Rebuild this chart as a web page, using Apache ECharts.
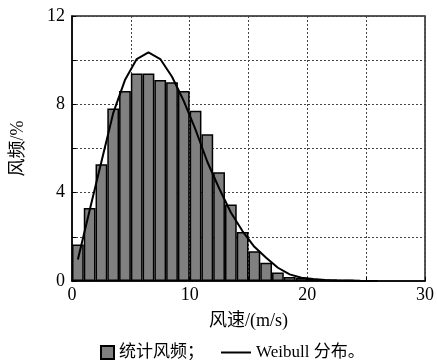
<!DOCTYPE html>
<html>
<head>
<meta charset="UTF-8">
<script type="text/javascript" src="https://cdn.jsdelivr.net/npm/echarts@6/dist/echarts.min.js"></script>
<title></title>
<style>
  html, body { margin: 0; padding: 0; background: #fff; }
</style>
</head>
<body>
<div id="main" style="width: 437px; height: 360px;"></div>
<script type="text/javascript">
// 风速区间中点 (m/s)
var speedMid = [0.5, 1.5, 2.5, 3.5, 4.5, 5.5, 6.5, 7.5, 8.5, 9.5, 10.5, 11.5, 12.5,
	13.5, 14.5, 15.5, 16.5, 17.5, 18.5, 19.5, 20.5, 21.5, 22.5, 23.5, 24.5, 25.5];
// 统计风频 (%)
var barFreq = [1.65, 3.31, 5.29, 7.81, 8.6, 9.4, 9.4, 9.1, 9.0, 8.6, 7.71, 6.64, 4.93,
	3.46, 2.22, 1.35, 0.83, 0.39, 0.18, 0.15, 0.09, 0.07, 0.05, 0.04, 0.03, 0.02];
// Weibull 分布 (%)
var weibull = [0.97, 3.2, 5.4, 7.6, 9.1, 10.05, 10.35, 10.05, 9.25, 8.15, 6.85, 5.4, 4.2,
	3.1, 2.25, 1.55, 1.05, 0.6, 0.3, 0.15, 0.09, 0.05, 0.03, 0.02, 0.01, 0.005];
var xTickLabels = [0, 10, 20, 30];
var yTickLabels = [0, 4, 8, 12];

var font = "'Liberation Serif', 'Noto Sans CJK SC', serif";

var barData = [];
var lineData = [];
for (var i = 0; i < speedMid.length; i++) {
	barData.push([speedMid[i], barFreq[i]]);
	lineData.push([speedMid[i], weibull[i]]);
}

var myChart = echarts.init(document.getElementById('main'));
var option = {
	animation: false,
	textStyle: { fontFamily: font, color: '#000' },
	grid: {
		left: 72, right: 10, top: 16, bottom: 79,
		show: true, borderColor: '#222', borderWidth: 1.5
	},
	legend: [{
		data: [{ name: '统计风频；', icon: 'rect' }],
		left: 95, top: 339,
		itemWidth: 13, itemHeight: 13, itemGap: 4,
		textStyle: { fontFamily: font, fontSize: 17, color: '#000' }
	}, {
		data: [{ name: 'Weibull 分布。', icon: 'rect' }],
		left: 216, top: 339,
		itemWidth: 30, itemHeight: 2, itemGap: 4,
		itemStyle: { color: '#000', borderWidth: 0 },
		textStyle: { fontFamily: font, fontSize: 17, color: '#000' }
	}],
	xAxis: {
		type: 'value', min: 0, max: 30, interval: 5,
		name: '风速/(m/s)', nameLocation: 'middle', nameGap: 31,
		nameTextStyle: { fontFamily: font, fontSize: 18, color: '#000' },
		axisLine: { show: true, lineStyle: { color: '#000', width: 1.5 } },
		axisTick: { show: true, inside: true, length: 4, lineStyle: { color: '#000' } },
		axisLabel: {
			margin: 5, fontSize: 18, color: '#000', fontFamily: font,
			formatter: function (v) { return xTickLabels.indexOf(v) >= 0 ? String(v) : ''; }
		},
		splitLine: { show: true, lineStyle: { color: '#444', type: [2, 2], width: 1 } }
	},
	yAxis: {
		type: 'value', min: 0, max: 12, interval: 2,
		name: '风频/%', nameLocation: 'middle', nameGap: 45,
		nameTextStyle: { fontFamily: font, fontSize: 18, color: '#000' },
		axisLine: { show: true, lineStyle: { color: '#000', width: 1.5 } },
		axisTick: { show: true, inside: true, length: 4, lineStyle: { color: '#000' } },
		axisLabel: {
			margin: 7, fontSize: 18, color: '#000', fontFamily: font,
			formatter: function (v) { return yTickLabels.indexOf(v) >= 0 ? String(v) : ''; }
		},
		splitLine: { show: true, lineStyle: { color: '#444', type: [2, 2], width: 1 } }
	},
	series: [{
		name: '统计风频；',
		type: 'bar',
		data: barData,
		barWidth: '100%',
		itemStyle: { color: '#808080', borderColor: '#000', borderWidth: 1.5 }
	}, {
		name: 'Weibull 分布。',
		type: 'line',
		data: lineData,
		symbol: 'none',
		lineStyle: { color: '#000', width: 2 },
		itemStyle: { color: '#000' },
		z: 3
	}]
};
myChart.setOption(option);
</script>
</body>
</html>
